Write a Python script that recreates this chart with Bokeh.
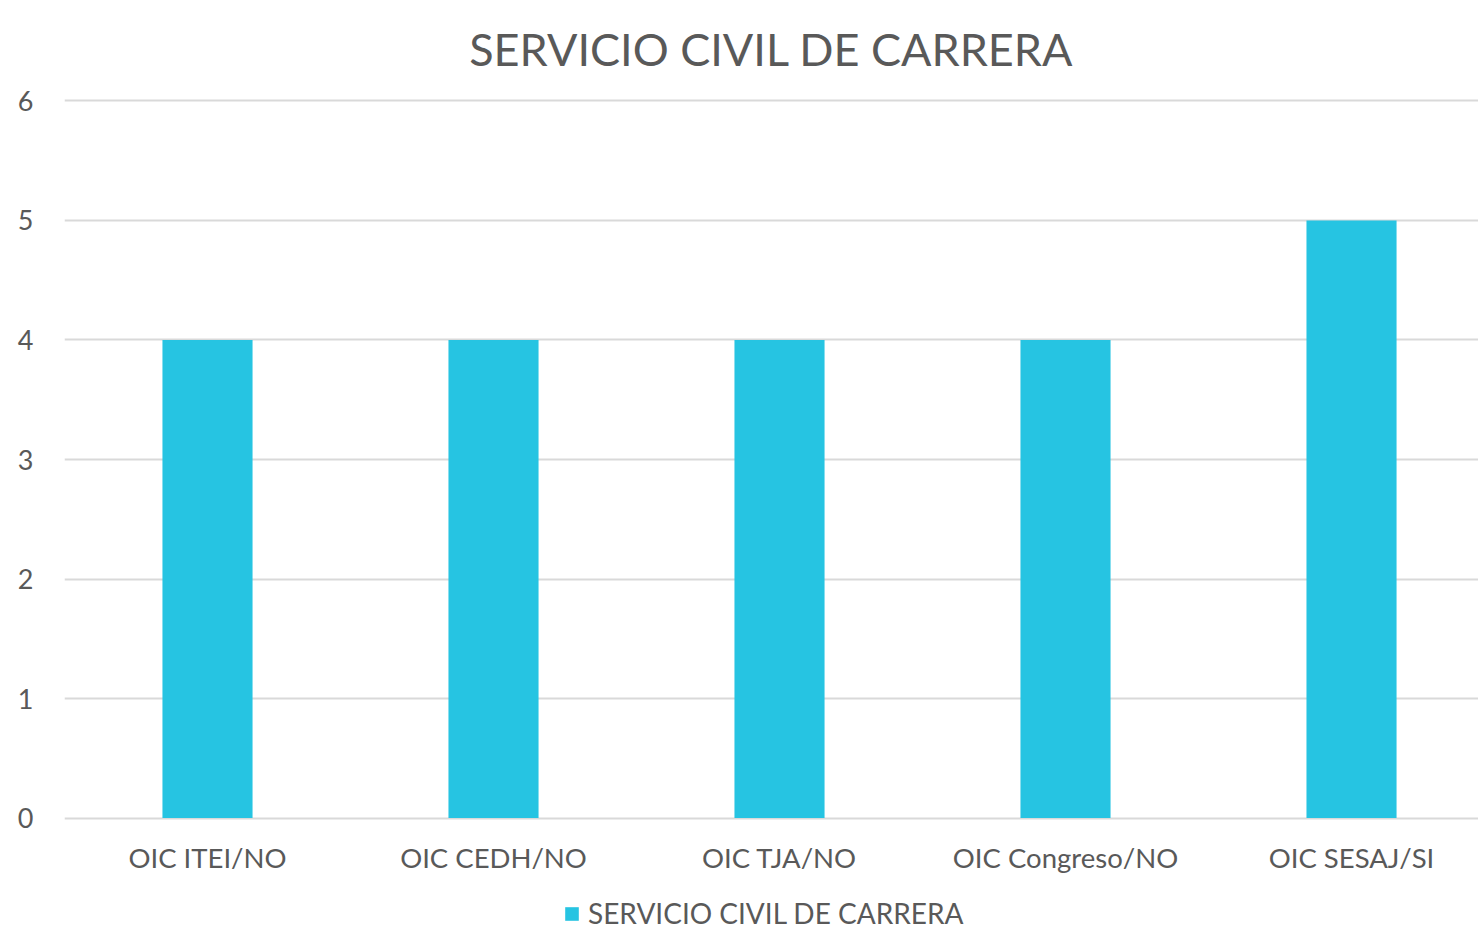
from bokeh.plotting import figure
from bokeh.models import Range1d, Legend, LegendItem, ColumnDataSource, FixedTicker
from bokeh.layouts import column
from bokeh.embed import file_html
from bokeh.resources import INLINE

categories = ["OIC ITEI/NO", "OIC CEDH/NO", "OIC TJA/NO", "OIC Congreso/NO", "OIC SESAJ/SI"]
values = [4, 4, 4, 4, 5]
series_name = "SERVICIO CIVIL DE CARRERA"
y_ticks = [0, 1, 2, 3, 4, 5, 6]

FONT = "Lato"
TXT = "#595959"
BAR = "#26C4E2"

xs = list(range(len(categories)))
src = ColumnDataSource(dict(x=xs, top=values, cat=categories))

p = figure(frame_width=1414, frame_height=722, output_backend="svg", toolbar_location=None,
           x_range=Range1d(-0.5, 4.444), y_range=Range1d(-0.02, 6.02),
           min_border_left=64, min_border_right=0, min_border_top=0, min_border_bottom=0)

p.title.text = "SERVICIO CIVIL DE CARRERA"
p.title.align = "center"
p.title.vertical_align = "top"
p.title.text_font = FONT
p.title.text_font_size = "45px"
p.title.text_font_style = "normal"
p.title.text_color = TXT
p.title.standoff = 42

p.vbar(x="x", top="top", bottom=0, width=0.315, source=src,
       fill_color=BAR, line_color=None)

p.outline_line_color = None
p.background_fill_color = "white"
p.border_fill_color = "white"

p.xaxis.ticker = FixedTicker(ticks=xs)
p.xaxis.major_label_overrides = {i: c for i, c in zip(xs, categories)}
p.xaxis.axis_line_color = None
p.xaxis.major_tick_line_color = None
p.xaxis.minor_tick_line_color = None
p.xaxis.major_tick_out = 0
p.xaxis.major_tick_in = 0
p.xaxis.minor_tick_out = 0
p.xaxis.major_label_text_font = FONT
p.xaxis.major_label_text_font_size = "27.5px"
p.xaxis.major_label_text_color = TXT
p.xaxis.major_label_standoff = 20

p.yaxis.ticker = FixedTicker(ticks=y_ticks)
p.yaxis.axis_line_color = None
p.yaxis.major_tick_line_color = None
p.yaxis.minor_tick_line_color = None
p.yaxis.major_tick_out = 0
p.yaxis.major_tick_in = 0
p.yaxis.minor_tick_out = 0
p.yaxis.major_label_text_font = FONT
p.yaxis.major_label_text_font_size = "27px"
p.yaxis.major_label_text_color = TXT
p.yaxis.major_label_standoff = 31

p.xgrid.grid_line_color = None
p.ygrid.grid_line_color = "#D9D9D9"
p.ygrid.grid_line_width = 2
p.ygrid.ticker = FixedTicker(ticks=y_ticks)

# legend strip below the chart (its bars lie outside this strip's range, only the legend shows)
p2 = figure(width=1478, height=56, output_backend="svg", toolbar_location=None,
            x_range=Range1d(100, 101), y_range=Range1d(100, 101),
            min_border_left=0, min_border_right=0, min_border_top=0, min_border_bottom=0)
p2.axis.visible = False
p2.grid.visible = False
p2.outline_line_color = None
p2.background_fill_color = "white"
p2.border_fill_color = "white"
legend_bars = p2.vbar(x="x", top="top", bottom=0, width=0.315, source=src,
                      fill_color=BAR, line_color=None)

legend = Legend(items=[LegendItem(label=series_name, renderers=[legend_bars])],
                orientation="horizontal", location=(499, 2),
                label_text_font=FONT, label_text_font_size="28px",
                label_text_color=TXT, glyph_width=17, glyph_height=17,
                border_line_color=None, background_fill_alpha=0,
                margin=0, padding=0, label_standoff=8)
p2.add_layout(legend)

layout = column(p, p2, spacing=0)
open("out.html", "w").write(file_html(layout, INLINE))
